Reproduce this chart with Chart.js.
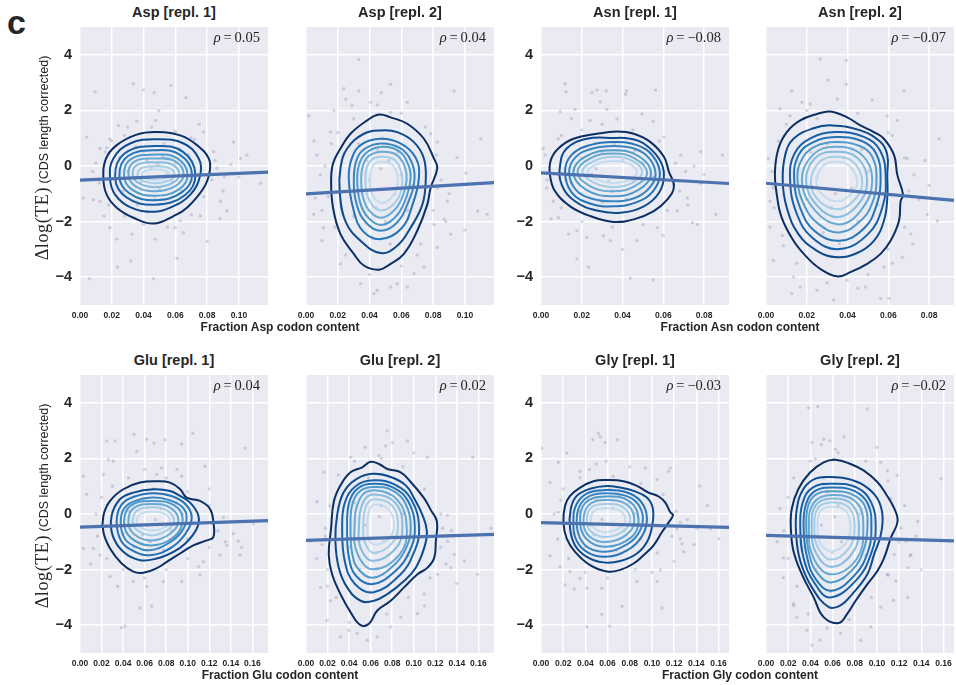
<!DOCTYPE html>
<html>
<head>
<meta charset="utf-8">
<script src="https://cdn.jsdelivr.net/npm/chart.js@4/dist/chart.umd.min.js"></script>
<style>
  html, body { margin: 0; padding: 0; background: #ffffff; }
  #fig { position: relative; width: 956px; height: 685px; overflow: hidden;
         font-family: "Liberation Sans", Arial, sans-serif; color: #262626; }
  #fig canvas { position: absolute; }
  .ptitle { position: absolute; width: 188px; text-align: center; font-weight: bold;
            font-size: 14.5px; line-height: 16px; white-space: nowrap; }
  .rho { position: absolute; text-align: right; font-family: "Liberation Serif", "DejaVu Serif", serif;
         font-size: 14.5px; line-height: 16px; white-space: nowrap; }
  .rho i { font-style: italic; }
  .xtitle { position: absolute; font-weight: bold; font-size: 12px; line-height: 14px;
            white-space: nowrap; transform: translate(-50%, -50%); }
  .ytitle { position: absolute; white-space: nowrap; font-size: 12.5px; line-height: 20px;
            transform: translate(-50%, -50%) rotate(-90deg); }
  .ytitle .math { font-family: "Liberation Serif", "DejaVu Serif", serif; font-size: 18px; letter-spacing: 0.6px; }
  .letter { position: absolute; left: 7px; top: 2px; font-weight: bold; font-size: 34px; line-height: 40px; }
</style>
</head>
<body>
<div id="fig"><div class="letter">c</div></div>
<script>
// ---- values -------------------------------------------------------------
const panelTitles = ['Asp [repl. 1]', 'Asp [repl. 2]', 'Asn [repl. 1]', 'Asn [repl. 2]',
                     'Glu [repl. 1]', 'Glu [repl. 2]', 'Gly [repl. 1]', 'Gly [repl. 2]'];
const rhoValues = [0.05, 0.04, -0.08, -0.07, 0.04, 0.02, -0.03, -0.02];
const xAxisTitles = ['Fraction Asp codon content', 'Fraction Asn codon content',
                     'Fraction Glu codon content', 'Fraction Gly codon content'];
const xMaxValues = [0.1183, 0.1183, 0.0922, 0.0922, 0.1745, 0.1745, 0.1695, 0.1695];
const aspTicks = [0, 0.02, 0.04, 0.06, 0.08, 0.10];
const asnTicks = [0, 0.02, 0.04, 0.06, 0.08];
const gluTicks = [0, 0.02, 0.04, 0.06, 0.08, 0.10, 0.12, 0.14, 0.16];
const glyTicks = [0, 0.02, 0.04, 0.06, 0.08, 0.10, 0.12, 0.14, 0.16];
const yTicks = [-4, -2, 0, 2, 4];
// regression fit value at the left (x = 0) and right (x = max) edge of each panel
const fitAtLeft  = [-0.51, -1.00, -0.25, -0.62, -0.47, -0.95, -0.31, -0.77];
const fitAtRight = [-0.22, -0.60, -0.63, -1.24, -0.24, -0.73, -0.48, -0.97];

// density contour rings, outermost first, as flat x,y lists
const aspRep1Rings = [
  [0.0484,1.22, 0.0631,1.10, 0.0736,0.75, 0.0810,0.27, 0.0816,-0.20, 0.0778,-0.79, 0.0673,-1.50, 0.0589,-1.80, 0.0463,-2.07, 0.0336,-1.86, 0.0231,-1.50, 0.0168,-1.03, 0.0147,-0.44, 0.0164,0.27, 0.0231,0.75, 0.0357,1.13],
  [0.0484,0.96, 0.0652,0.81, 0.0747,0.27, 0.0757,-0.32, 0.0694,-1.03, 0.0568,-1.50, 0.0463,-1.65, 0.0315,-1.48, 0.0221,-1.03, 0.0189,-0.44, 0.0210,0.27, 0.0315,0.81],
  [0.048,0.72, 0.065,0.50, 0.0726,-0.30, 0.066,-1.05, 0.047,-1.39, 0.029,-1.12, 0.0221,-0.40, 0.028,0.45],
  [0.048,0.57, 0.063,0.40, 0.0705,-0.30, 0.064,-0.95, 0.047,-1.23, 0.031,-0.98, 0.0248,-0.38, 0.030,0.35],
  [0.048,0.41, 0.061,0.28, 0.0677,-0.30, 0.062,-0.85, 0.047,-1.07, 0.033,-0.86, 0.0277,-0.35, 0.032,0.25],
  [0.048,0.27, 0.060,0.17, 0.0652,-0.30, 0.060,-0.72, 0.047,-0.91, 0.035,-0.73, 0.0305,-0.33, 0.034,0.15],
  [0.048,0.13, 0.058,0.05, 0.0625,-0.30, 0.058,-0.62, 0.047,-0.76, 0.037,-0.62, 0.0332,-0.32, 0.036,0.04],
  [0.048,-0.01, 0.056,-0.07, 0.0595,-0.30, 0.056,-0.52, 0.047,-0.62, 0.039,-0.52, 0.0362,-0.31, 0.039,-0.07],
  [0.048,-0.13, 0.054,-0.18, 0.056,-0.31, 0.054,-0.44, 0.047,-0.50, 0.041,-0.44, 0.039,-0.31, 0.041,-0.18]
];
const aspRep2Rings = [
  [0.0458,1.85, 0.0385,1.64, 0.0280,1.16, 0.0217,0.63, 0.0170,0.09, 0.0158,-0.56, 0.0170,-1.50, 0.0217,-2.45, 0.0301,-3.16, 0.0364,-3.58, 0.0458,-3.73, 0.0532,-3.52, 0.0616,-3.16, 0.0700,-2.33, 0.0763,-1.39, 0.0784,-0.79, 0.0826,-0.08, 0.0805,0.27, 0.0742,0.98, 0.0637,1.52, 0.0532,1.75],
  [0.0469,1.28, 0.0364,1.16, 0.0259,0.63, 0.0217,-0.08, 0.0212,-0.91, 0.0248,-1.98, 0.0343,-2.69, 0.0469,-3.13, 0.0574,-2.87, 0.0658,-2.22, 0.0732,-1.39, 0.0753,-0.56, 0.0742,0.27, 0.0679,0.86, 0.0574,1.22],
  [0.047,0.98, 0.060,0.80, 0.069,0.30, 0.0711,-0.40, 0.067,-1.40, 0.060,-2.25, 0.047,-2.63, 0.036,-2.35, 0.030,-1.60, 0.0269,-0.44, 0.029,0.30, 0.035,0.78],
  [0.047,0.81, 0.059,0.65, 0.066,0.20, 0.0683,-0.45, 0.064,-1.35, 0.057,-2.05, 0.047,-2.33, 0.038,-2.05, 0.032,-1.40, 0.0301,-0.45, 0.032,0.25, 0.037,0.62],
  [0.048,0.69, 0.058,0.55, 0.064,0.10, 0.0658,-0.45, 0.062,-1.30, 0.056,-1.85, 0.047,-2.12, 0.039,-1.85, 0.034,-1.30, 0.0322,-0.45, 0.034,0.15, 0.039,0.52],
  [0.048,0.51, 0.057,0.40, 0.062,0.00, 0.0633,-0.50, 0.060,-1.20, 0.055,-1.62, 0.047,-1.86, 0.040,-1.62, 0.036,-1.15, 0.0347,-0.50, 0.036,0.05, 0.040,0.38],
  [0.048,0.33, 0.057,0.15, 0.0606,-0.55, 0.057,-1.25, 0.047,-1.60, 0.040,-1.25, 0.0374,-0.55, 0.040,0.15],
  [0.048,0.15, 0.055,0.00, 0.0578,-0.55, 0.055,-1.05, 0.048,-1.33, 0.042,-1.05, 0.0402,-0.55, 0.042,0.00]
];
const asnRep1Rings = [
  [0.0373,1.24, 0.0274,1.16, 0.0159,0.98, 0.0085,0.63, 0.0048,0.21, 0.0044,-0.32, 0.0069,-0.91, 0.0143,-1.45, 0.0241,-1.80, 0.0356,-2.01, 0.0455,-1.92, 0.0553,-1.62, 0.0619,-1.21, 0.0652,-0.73, 0.0627,-0.20, 0.0603,0.33, 0.0537,0.86, 0.0455,1.16],
  [0.0356,1.01, 0.0225,0.98, 0.0126,0.63, 0.0094,0.04, 0.0102,-0.68, 0.0167,-1.27, 0.0274,-1.60, 0.0389,-1.68, 0.0504,-1.45, 0.0578,-0.97, 0.0603,-0.32, 0.0578,0.27, 0.0504,0.81, 0.0438,0.98],
  [0.0356,0.86, 0.047,0.75, 0.055,0.35, 0.0583,-0.30, 0.055,-0.90, 0.047,-1.30, 0.0356,-1.45, 0.024,-1.35, 0.015,-0.95, 0.0118,-0.20, 0.015,0.40, 0.024,0.75],
  [0.0356,0.72, 0.046,0.62, 0.053,0.28, 0.0562,-0.30, 0.053,-0.80, 0.046,-1.15, 0.0356,-1.27, 0.025,-1.18, 0.017,-0.85, 0.0138,-0.22, 0.017,0.32, 0.025,0.62],
  [0.0356,0.57, 0.048,0.35, 0.054,-0.28, 0.048,-0.85, 0.0356,-1.09, 0.022,-0.85, 0.0159,-0.22, 0.022,0.35],
  [0.0356,0.45, 0.046,0.27, 0.0521,-0.25, 0.046,-0.72, 0.0356,-0.91, 0.024,-0.72, 0.0179,-0.22, 0.024,0.27],
  [0.0356,0.33, 0.045,0.18, 0.0496,-0.22, 0.045,-0.60, 0.0356,-0.76, 0.026,-0.60, 0.0202,-0.20, 0.026,0.18],
  [0.0356,0.18, 0.043,0.08, 0.0471,-0.22, 0.043,-0.50, 0.0356,-0.62, 0.028,-0.50, 0.0228,-0.20, 0.028,0.08]
];
const asnRep2Rings = [
  [0.0315,1.96, 0.0250,1.87, 0.0168,1.64, 0.0102,1.22, 0.0061,0.63, 0.0044,-0.20, 0.0053,-1.03, 0.0077,-1.86, 0.0135,-2.69, 0.0200,-3.28, 0.0266,-3.70, 0.0348,-3.97, 0.0414,-3.82, 0.0496,-3.52, 0.0562,-3.16, 0.0611,-2.69, 0.0652,-1.98, 0.0660,-1.27, 0.0672,-1.03, 0.0644,-0.32, 0.0628,0.39, 0.0578,0.98, 0.0529,1.22, 0.0463,1.46, 0.0398,1.75],
  [0.0324,1.46, 0.0233,1.36, 0.0135,0.98, 0.0094,0.39, 0.0082,-0.56, 0.0102,-1.50, 0.0159,-2.45, 0.0250,-3.05, 0.0348,-3.28, 0.0447,-3.13, 0.0529,-2.69, 0.0578,-1.98, 0.0595,-1.15, 0.0595,-0.32, 0.0595,0.39, 0.0562,0.86, 0.0463,1.28],
  [0.034,1.22, 0.048,1.05, 0.056,0.55, 0.0587,-0.40, 0.057,-1.50, 0.050,-2.45, 0.036,-2.99, 0.023,-2.60, 0.015,-1.70, 0.0118,-0.45, 0.014,0.45, 0.022,1.00],
  [0.034,1.04, 0.047,0.90, 0.054,0.45, 0.0562,-0.45, 0.054,-1.45, 0.048,-2.25, 0.036,-2.69, 0.024,-2.35, 0.017,-1.55, 0.0138,-0.45, 0.016,0.40, 0.023,0.85],
  [0.034,0.86, 0.046,0.72, 0.052,0.35, 0.0542,-0.45, 0.052,-1.35, 0.046,-2.00, 0.036,-2.39, 0.026,-2.10, 0.019,-1.45, 0.0154,-0.45, 0.018,0.30, 0.024,0.70],
  [0.034,0.69, 0.047,0.40, 0.0521,-0.50, 0.047,-1.55, 0.036,-2.10, 0.024,-1.60, 0.0176,-0.50, 0.023,0.40],
  [0.034,0.51, 0.045,0.28, 0.0496,-0.55, 0.045,-1.40, 0.035,-1.84, 0.025,-1.42, 0.0197,-0.55, 0.024,0.28],
  [0.034,0.33, 0.043,0.13, 0.0472,-0.60, 0.043,-1.25, 0.035,-1.56, 0.026,-1.25, 0.022,-0.60, 0.026,0.13],
  [0.034,0.15, 0.041,0.00, 0.0447,-0.60, 0.041,-1.05, 0.035,-1.27, 0.028,-1.05, 0.0246,-0.60, 0.028,0.00]
];
const gluRep1Rings = [
  [0.0712,1.18, 0.0557,1.13, 0.0402,0.89, 0.0279,0.47, 0.0217,-0.06, 0.0217,-0.65, 0.0279,-1.24, 0.0387,-1.78, 0.0495,-2.07, 0.0588,-2.11, 0.0712,-1.95, 0.0805,-1.72, 0.0929,-1.42, 0.1052,-1.13, 0.1176,-0.95, 0.1238,-0.83, 0.1238,-0.30, 0.1207,0.18, 0.1114,0.47, 0.0990,0.59, 0.0929,0.89, 0.0836,1.13],
  [0.0681,0.89, 0.0495,0.77, 0.0371,0.53, 0.0294,-0.06, 0.0303,-0.77, 0.0402,-1.36, 0.0557,-1.66, 0.0712,-1.60, 0.0867,-1.36, 0.0975,-1.07, 0.1083,-0.53, 0.1099,-0.06, 0.1021,0.41, 0.0929,0.65, 0.0836,0.83],
  [0.068,0.75, 0.085,0.65, 0.098,0.35, 0.1037,-0.12, 0.098,-0.70, 0.085,-1.20, 0.065,-1.48, 0.048,-1.30, 0.038,-0.95, 0.034,-0.30, 0.038,0.30, 0.050,0.62],
  [0.068,0.59, 0.083,0.50, 0.095,0.25, 0.099,-0.15, 0.094,-0.65, 0.082,-1.05, 0.065,-1.30, 0.050,-1.15, 0.041,-0.85, 0.0378,-0.30, 0.041,0.20, 0.052,0.48],
  [0.068,0.47, 0.088,0.30, 0.0953,-0.20, 0.088,-0.80, 0.066,-1.13, 0.047,-0.85, 0.0409,-0.30, 0.047,0.30],
  [0.068,0.36, 0.084,0.22, 0.0913,-0.22, 0.084,-0.70, 0.066,-0.95, 0.050,-0.72, 0.0449,-0.28, 0.050,0.22],
  [0.068,0.24, 0.081,0.12, 0.0873,-0.25, 0.081,-0.58, 0.067,-0.77, 0.053,-0.58, 0.0489,-0.27, 0.053,0.12],
  [0.068,0.08, 0.079,0.00, 0.0836,-0.27, 0.079,-0.48, 0.067,-0.59, 0.056,-0.48, 0.0526,-0.27, 0.056,0.00]
];
const gluRep2Rings = [
  [0.0600,1.88, 0.0522,1.68, 0.0413,1.50, 0.0320,1.03, 0.0258,0.44, 0.0233,-0.51, 0.0211,-1.46, 0.0242,-2.17, 0.0320,-2.88, 0.0413,-3.53, 0.0506,-4.00, 0.0584,-3.95, 0.0662,-3.47, 0.0786,-3.12, 0.0910,-2.64, 0.1035,-2.17, 0.1128,-1.93, 0.1190,-1.58, 0.1205,-0.98, 0.1215,-0.27, 0.1159,0.14, 0.1097,0.56, 0.0972,1.15, 0.0879,1.50, 0.0755,1.62, 0.0677,1.80],
  [0.0615,1.45, 0.0475,1.27, 0.0351,0.79, 0.0289,-0.04, 0.0273,-0.98, 0.0304,-1.93, 0.0382,-2.64, 0.0506,-3.12, 0.0631,-3.12, 0.0755,-2.88, 0.0910,-2.41, 0.1019,-1.93, 0.1097,-1.22, 0.1122,-0.63, 0.1081,-0.04, 0.1004,0.56, 0.0926,1.03, 0.0786,1.33],
  [0.063,1.21, 0.083,1.05, 0.098,0.50, 0.105,-0.50, 0.100,-1.40, 0.087,-2.20, 0.062,-2.82, 0.045,-2.50, 0.036,-1.70, 0.0336,-0.50, 0.036,0.40, 0.046,1.00],
  [0.063,1.09, 0.081,0.95, 0.095,0.45, 0.101,-0.50, 0.096,-1.35, 0.083,-2.05, 0.062,-2.52, 0.047,-2.25, 0.040,-1.60, 0.0382,-0.50, 0.040,0.40, 0.048,0.92],
  [0.063,0.97, 0.080,0.85, 0.092,0.40, 0.0972,-0.50, 0.092,-1.30, 0.080,-1.90, 0.062,-2.29, 0.049,-2.00, 0.043,-1.45, 0.0413,-0.50, 0.043,0.35, 0.050,0.82],
  [0.063,0.85, 0.085,0.50, 0.0935,-0.50, 0.087,-1.45, 0.062,-1.99, 0.048,-1.45, 0.045,-0.50, 0.050,0.55],
  [0.063,0.70, 0.083,0.40, 0.0895,-0.50, 0.083,-1.25, 0.062,-1.69, 0.051,-1.25, 0.0491,-0.50, 0.053,0.42],
  [0.064,0.53, 0.080,0.30, 0.0854,-0.45, 0.080,-1.05, 0.063,-1.40, 0.055,-1.05, 0.0531,-0.45, 0.056,0.30],
  [0.064,0.34, 0.077,0.15, 0.0817,-0.40, 0.077,-0.88, 0.064,-1.10, 0.058,-0.88, 0.0569,-0.40, 0.059,0.15]
];
const glyRep1Rings = [
  [0.0594,1.22, 0.0473,1.18, 0.0353,0.95, 0.0262,0.65, 0.0217,0.30, 0.0202,-0.30, 0.0232,-0.89, 0.0307,-1.36, 0.0443,-1.84, 0.0594,-2.07, 0.0714,-2.01, 0.0835,-1.78, 0.0925,-1.48, 0.1015,-1.13, 0.1091,-0.65, 0.1151,-0.30, 0.1190,-0.04, 0.1166,0.06, 0.1121,0.41, 0.1061,0.63, 0.0970,0.77, 0.0865,1.01, 0.0744,1.18],
  [0.0594,1.01, 0.0443,0.91, 0.0322,0.65, 0.0268,0.18, 0.0262,-0.53, 0.0307,-1.13, 0.0413,-1.54, 0.0563,-1.74, 0.0714,-1.69, 0.0865,-1.42, 0.0955,-1.01, 0.1000,-0.47, 0.1009,0.18, 0.0955,0.59, 0.0835,0.83, 0.0714,0.95],
  [0.058,0.86, 0.077,0.78, 0.090,0.45, 0.0955,-0.15, 0.091,-0.80, 0.078,-1.30, 0.058,-1.54, 0.042,-1.38, 0.032,-0.95, 0.0292,-0.30, 0.032,0.35, 0.042,0.75],
  [0.058,0.75, 0.075,0.67, 0.087,0.38, 0.0919,-0.18, 0.087,-0.75, 0.075,-1.15, 0.058,-1.36, 0.043,-1.22, 0.035,-0.85, 0.0322,-0.30, 0.035,0.30, 0.044,0.65],
  [0.058,0.63, 0.080,0.45, 0.088,-0.22, 0.081,-0.85, 0.058,-1.18, 0.041,-0.90, 0.0353,-0.30, 0.040,0.40],
  [0.058,0.50, 0.077,0.35, 0.0841,-0.22, 0.077,-0.75, 0.058,-1.01, 0.043,-0.78, 0.0383,-0.28, 0.043,0.32],
  [0.058,0.36, 0.074,0.25, 0.0805,-0.22, 0.074,-0.62, 0.058,-0.83, 0.045,-0.63, 0.0413,-0.25, 0.045,0.22],
  [0.058,0.21, 0.071,0.12, 0.076,-0.22, 0.071,-0.50, 0.058,-0.65, 0.048,-0.50, 0.0449,-0.22, 0.048,0.12]
];
const glyRep2Rings = [
  [0.0626,1.95, 0.0520,1.86, 0.0399,1.50, 0.0293,0.91, 0.0233,0.20, 0.0224,-0.51, 0.0248,-1.34, 0.0324,-2.17, 0.0430,-3.00, 0.0520,-3.71, 0.0656,-3.92, 0.0732,-3.59, 0.0808,-3.12, 0.0914,-2.52, 0.1004,-2.05, 0.1065,-1.58, 0.1125,-0.86, 0.1186,-0.27, 0.1156,0.20, 0.1080,0.73, 0.1004,1.15, 0.0883,1.56, 0.0762,1.80],
  [0.0581,1.33, 0.0445,1.27, 0.0339,0.91, 0.0278,0.20, 0.0272,-0.75, 0.0309,-1.69, 0.0414,-2.64, 0.0566,-3.35, 0.0672,-3.29, 0.0778,-2.88, 0.0914,-2.17, 0.0974,-1.46, 0.1035,-0.75, 0.1050,-0.04, 0.1004,0.56, 0.0883,1.03, 0.0732,1.27],
  [0.060,1.09, 0.082,0.95, 0.095,0.40, 0.0989,-0.50, 0.095,-1.40, 0.082,-2.35, 0.058,-3.00, 0.044,-2.50, 0.034,-1.60, 0.0309,-0.50, 0.033,0.40, 0.042,0.95],
  [0.060,0.95, 0.080,0.82, 0.092,0.35, 0.095,-0.50, 0.092,-1.35, 0.080,-2.20, 0.059,-2.76, 0.045,-2.35, 0.037,-1.55, 0.0339,-0.50, 0.036,0.35, 0.044,0.82],
  [0.060,0.82, 0.078,0.70, 0.089,0.30, 0.0914,-0.50, 0.088,-1.30, 0.078,-2.00, 0.059,-2.46, 0.046,-2.10, 0.039,-1.45, 0.0363,-0.50, 0.038,0.30, 0.045,0.70],
  [0.060,0.68, 0.082,0.40, 0.0877,-0.50, 0.082,-1.60, 0.059,-2.17, 0.043,-1.60, 0.0387,-0.50, 0.043,0.40],
  [0.060,0.56, 0.078,0.32, 0.0838,-0.50, 0.078,-1.40, 0.059,-1.91, 0.045,-1.40, 0.0411,-0.50, 0.045,0.32],
  [0.060,0.41, 0.075,0.22, 0.0799,-0.50, 0.075,-1.22, 0.059,-1.64, 0.047,-1.22, 0.0436,-0.50, 0.047,0.22],
  [0.060,0.26, 0.072,0.10, 0.0762,-0.50, 0.072,-1.05, 0.059,-1.34, 0.049,-1.05, 0.0466,-0.50, 0.049,0.10]
];

// individual genes (x = codon fraction, y = corrected delta log TE), flat x,y lists
const aspRep1Points = [0.0336,2.96, 0.0400,2.74, 0.0467,2.64, 0.0572,2.90, 0.0667,2.46, 0.0095,2.67, 0.0496,1.99, 0.0358,1.61, 0.0475,1.64, 0.0168,0.66, 0.0242,1.46, 0.0698,1.01, 0.0189,0.96, 0.0042,1.04, 0.0126,0.63, 0.1050,0.39, 0.1010,0.27, 0.1136,-0.62, 0.0862,-0.08, 0.0908,-0.38, 0.0841,0.51, 0.0126,-1.27, 0.0084,-1.21, 0.0189,-2.22, 0.0231,-2.63, 0.0326,-2.45, 0.0473,-2.63, 0.0599,-2.22, 0.0610,-3.32, 0.0235,-3.64, 0.0320,-3.41, 0.0463,-4.05, 0.0059,-4.05, 0.0799,-2.71, 0.0925,-1.62, 0.0883,-1.27, 0.0020,-1.15, 0.0757,-1.80, 0.0631,-1.98, 0.0778,1.22, 0.0967,0.86,
  0.040,0.50, 0.052,0.35, 0.045,-0.10, 0.055,-0.25, 0.038,-0.60, 0.050,-0.80, 0.060,0.10, 0.030,-0.20, 0.042,0.20, 0.058,-0.55, 0.035,0.70, 0.047,-1.20, 0.064,-0.90, 0.027,-0.90, 0.053,0.80, 0.044,-0.40, 0.049,0.05, 0.036,-1.40, 0.068,0.40, 0.025,0.30,
  0.020,0.90, 0.028,1.10, 0.060,1.25, 0.072,0.95, 0.085,0.20, 0.083,-0.50, 0.078,-1.10, 0.070,-1.75, 0.055,-2.20, 0.040,-2.10, 0.028,-1.80, 0.018,-1.40, 0.012,-0.60, 0.010,0.10, 0.016,0.50, 0.090,-0.90, 0.095,0.05, 0.075,1.50, 0.030,1.40, 0.015,-1.80, 0.065,-2.40, 0.045,1.40, 0.088,-1.90, 0.008,-0.20, 0.100,-0.40];
const aspRep2Points = [0.0332,3.83, 0.0238,2.78, 0.0332,2.70, 0.0473,2.64, 0.0532,2.94, 0.0932,2.70, 0.0290,2.17, 0.0175,1.99, 0.0017,1.81, 0.0784,1.16, 0.0826,0.86, 0.1100,0.98, 0.0069,0.39, 0.0090,-0.32, 0.0059,-1.15, 0.0048,-1.74, 0.0101,-2.69, 0.0217,-3.52, 0.0343,-4.23, 0.0532,-4.35, 0.0637,-4.35, 0.0427,-4.59, 0.0742,-3.64, 0.0826,-2.93, 0.0911,-2.45, 0.1005,-0.26, 0.1080,-1.62, 0.1140,-1.74, 0.0890,-1.27, 0.0869,-1.92, 0.0637,2.29, 0.0406,2.29, 0.0532,1.93, 0.0154,1.22, 0.0826,-0.79, 0.0805,-2.10, 0.0574,-4.23, 0.0448,-4.47, 0.0111,-2.22, 0.0679,-3.87,
  0.045,0.60, 0.052,0.20, 0.040,-0.50, 0.056,-1.00, 0.044,-1.50, 0.050,-2.00, 0.035,-0.90, 0.060,-0.30, 0.048,1.00, 0.038,0.20, 0.058,0.50, 0.042,-2.60, 0.064,-1.60, 0.030,-1.80, 0.053,-2.80, 0.047,-0.10, 0.033,0.80, 0.067,-0.70,
  0.020,1.20, 0.030,1.70, 0.060,1.90, 0.075,1.40, 0.082,0.40, 0.085,-0.50, 0.080,-1.60, 0.072,-2.80, 0.060,-3.60, 0.040,-3.90, 0.025,-3.20, 0.018,-2.20, 0.014,-1.10, 0.012,0.00, 0.016,0.80, 0.090,-1.00, 0.095,0.30, 0.045,2.20, 0.025,2.40, 0.010,-1.60, 0.070,-3.20, 0.088,-2.00, 0.005,0.90, 0.100,-2.30];
const asnRep1Points = [0.0118,2.96, 0.0123,2.67, 0.0250,2.64, 0.0274,2.73, 0.0320,2.70, 0.0414,2.58, 0.0419,2.70, 0.0562,2.73, 0.0291,2.31, 0.0323,2.03, 0.0167,2.03, 0.0373,1.69, 0.0241,1.64, 0.0094,1.96, 0.0496,1.87, 0.0085,0.98, 0.0011,0.63, 0.0603,1.04, 0.0685,0.39, 0.0783,0.51, 0.0890,0.39, 0.0709,-0.20, 0.0783,-0.62, 0.0718,-1.15, 0.0668,-1.62, 0.0742,-2.04, 0.0767,-2.10, 0.0857,-1.74, 0.0085,-1.86, 0.0135,-2.45, 0.0176,-2.33, 0.0225,-2.57, 0.0307,-2.51, 0.0340,-2.69, 0.0471,-2.69, 0.0233,-3.64, 0.0176,-3.34, 0.0438,-4.03, 0.0550,-4.09, 0.0061,-1.27, 0.0570,-2.22, 0.0028,-0.79,
  0.030,0.50, 0.040,0.20, 0.025,-0.30, 0.045,-0.50, 0.035,-0.90, 0.020,0.30, 0.050,0.10, 0.030,-1.30, 0.042,-1.20, 0.015,-0.60, 0.055,-0.40, 0.036,0.80, 0.027,-0.10, 0.046,0.55, 0.033,-0.55, 0.020,-1.00,
  0.010,1.10, 0.020,1.30, 0.045,1.30, 0.058,0.90, 0.066,0.10, 0.068,-0.90, 0.062,-1.60, 0.050,-2.10, 0.035,-2.20, 0.020,-2.00, 0.010,-1.50, 0.003,-0.50, 0.002,0.40, 0.072,-1.40, 0.075,0.00, 0.055,1.60, 0.030,1.50, 0.005,-1.90, 0.060,-2.50, 0.040,-3.00, 0.080,-0.30, 0.015,1.70];
const asnRep2Points = [0.0266,3.85, 0.0394,3.80, 0.0126,2.70, 0.0302,3.09, 0.0394,2.94, 0.0677,2.70, 0.0521,2.37, 0.0176,2.29, 0.0217,2.23, 0.0069,2.05, 0.0118,1.81, 0.0595,1.81, 0.0644,1.64, 0.0619,1.10, 0.0693,0.27, 0.0726,-0.32, 0.0849,0.98, 0.0792,-1.74, 0.0841,-1.98, 0.0710,-2.45, 0.0669,-3.28, 0.0578,-3.64, 0.0562,-4.76, 0.0603,-4.76, 0.0126,-4.59, 0.0168,-4.35, 0.0135,-3.99, 0.0250,-4.47, 0.0398,-4.11, 0.0020,-1.27, 0.0036,-0.79, 0.0011,0.27, 0.0085,-2.87, 0.0036,-3.40, 0.0488,-4.35, 0.0332,-4.82,
  0.030,0.80, 0.038,0.30, 0.025,-0.40, 0.042,-0.80, 0.032,-1.50, 0.045,-2.00, 0.020,-1.20, 0.050,-0.20, 0.028,-2.40, 0.036,-2.80, 0.015,0.20, 0.055,-1.40, 0.040,1.20, 0.022,0.50, 0.034,-1.00, 0.047,0.60,
  0.010,1.50, 0.020,2.00, 0.045,1.90, 0.060,1.20, 0.068,0.30, 0.070,-0.90, 0.068,-2.20, 0.060,-3.00, 0.050,-3.90, 0.030,-4.20, 0.015,-3.50, 0.008,-2.50, 0.004,-1.50, 0.003,-0.20, 0.006,0.90, 0.075,-1.20, 0.078,0.20, 0.035,2.40, 0.025,1.70, 0.002,-2.20, 0.062,-3.50, 0.072,-2.80, 0.080,-0.70, 0.045,-4.40];
const gluRep1Points = [0.0248,2.63, 0.0325,2.63, 0.0619,2.69, 0.0687,2.55, 0.0789,2.67, 0.0944,2.52, 0.1046,2.90, 0.0501,2.87, 0.0526,2.25, 0.0263,1.95, 0.0310,1.90, 0.0217,1.42, 0.0758,1.66, 0.0712,1.42, 0.0944,1.36, 0.1161,1.72, 0.1532,2.37, 0.0062,0.71, 0.0031,1.36, 0.1331,-0.12, 0.1424,-0.71, 0.1470,-0.98, 0.1362,-1.13, 0.1486,-1.48, 0.1300,-1.48, 0.0186,-1.48, 0.0124,-1.24, 0.0279,-2.25, 0.0495,-2.43, 0.0619,-2.61, 0.0774,-2.43, 0.0665,-3.32, 0.0557,-3.38, 0.0418,-4.03, 0.0387,-4.09, 0.0944,-2.43, 0.1114,-2.19, 0.1145,-1.72, 0.0031,-1.24, 0.1609,-0.36,
  0.060,0.50, 0.075,0.20, 0.055,-0.40, 0.085,-0.60, 0.065,-1.00, 0.045,0.10, 0.095,0.00, 0.070,-0.20, 0.050,-1.20, 0.080,0.70, 0.100,-0.90, 0.040,-0.70, 0.068,0.90, 0.090,0.40, 0.058,-0.75, 0.078,-1.30,
  0.030,1.00, 0.045,1.30, 0.080,1.30, 0.100,0.80, 0.120,0.30, 0.128,-0.60, 0.120,-1.20, 0.100,-1.60, 0.080,-2.00, 0.060,-2.30, 0.040,-2.00, 0.025,-1.60, 0.016,-0.80, 0.015,0.00, 0.020,0.60, 0.135,-1.00, 0.140,-0.30, 0.090,1.60, 0.060,1.60, 0.010,-1.80, 0.110,-1.90, 0.150,-1.20, 0.035,-2.60, 0.120,0.90];
const gluRep2Points = [0.0755,2.99, 0.0941,2.63, 0.0740,2.45, 0.0413,2.04, 0.0677,2.10, 0.1128,2.04, 0.1547,2.04, 0.0802,2.57, 0.0165,1.50, 0.0103,0.44, 0.0180,-0.51, 0.0149,-1.10, 0.0040,-0.98, 0.1268,-0.51, 0.1314,-0.98, 0.1376,-1.46, 0.1345,-1.93, 0.1221,-2.17, 0.1470,-1.69, 0.1594,-2.17, 0.1097,-2.88, 0.1035,-3.59, 0.0879,-3.71, 0.0786,-4.06, 0.0662,-4.42, 0.0475,-4.30, 0.0320,-4.42, 0.0196,-3.83, 0.0134,-2.64, 0.0227,-3.12, 0.1314,-0.04, 0.1718,-0.51, 0.0569,-4.54, 0.0398,-4.18,
  0.060,0.80, 0.070,0.30, 0.055,-0.40, 0.080,-0.80, 0.065,-1.40, 0.050,-2.00, 0.090,0.00, 0.045,0.40, 0.075,-2.30, 0.060,-2.80, 0.085,1.00, 0.040,-1.20, 0.095,-1.50, 0.068,-0.10, 0.058,1.30, 0.072,-1.00,
  0.030,1.40, 0.045,1.90, 0.070,2.00, 0.090,1.70, 0.110,0.90, 0.125,0.00, 0.125,-1.20, 0.115,-2.30, 0.095,-3.00, 0.075,-3.60, 0.055,-4.00, 0.040,-3.90, 0.028,-3.00, 0.020,-2.00, 0.018,-0.80, 0.022,0.30, 0.135,-0.60, 0.140,-2.50, 0.100,2.20, 0.055,2.40, 0.010,-1.60, 0.110,-3.30, 0.130,-1.80, 0.020,-2.60];
const glyRep1Points = [0.0518,2.90, 0.0533,2.78, 0.0467,2.67, 0.0578,2.57, 0.0690,2.67, 0.0588,1.90, 0.0157,1.86, 0.0232,2.19, 0.0437,1.60, 0.0353,1.54, 0.0940,1.66, 0.1166,1.66, 0.1151,1.54, 0.1431,1.01, 0.1046,1.24, 0.0006,2.37, 0.0081,1.13, 0.0157,0.06, 0.1256,-0.30, 0.1226,-0.53, 0.1256,-0.89, 0.1271,-1.07, 0.1287,-1.36, 0.1407,-0.53, 0.1528,-0.53, 0.1603,-0.89, 0.0172,-1.90, 0.0262,-2.07, 0.0217,-2.55, 0.0353,-2.31, 0.0413,-2.67, 0.0548,-2.67, 0.0729,-3.32, 0.0865,-2.43, 0.1046,-2.43, 0.1091,-3.38, 0.0548,-3.61, 0.0618,-4.03, 0.0413,-4.06, 0.1076,-2.01,
  0.050,0.50, 0.065,0.20, 0.045,-0.40, 0.075,-0.60, 0.060,-1.00, 0.035,0.10, 0.085,0.00, 0.055,-0.20, 0.040,-1.20, 0.070,0.70, 0.090,-0.90, 0.030,-0.70, 0.062,0.90, 0.080,0.40, 0.048,-0.75, 0.068,-1.30,
  0.020,0.90, 0.035,1.30, 0.065,1.35, 0.090,1.10, 0.110,0.70, 0.122,0.10, 0.118,-0.80, 0.105,-1.40, 0.085,-2.00, 0.060,-2.30, 0.040,-2.10, 0.025,-1.60, 0.015,-0.90, 0.012,0.00, 0.018,0.50, 0.132,-0.20, 0.138,-1.10, 0.080,1.70, 0.050,1.80, 0.008,-1.50, 0.100,-2.10, 0.120,-1.70, 0.030,-2.70, 0.150,0.30];
const glyRep2Points = [0.0466,3.87, 0.0384,3.82, 0.0914,3.78, 0.0520,2.69, 0.0575,2.63, 0.0702,2.78, 0.0626,2.33, 0.0414,2.57, 0.0445,1.98, 0.0611,1.98, 0.1035,1.86, 0.1186,1.39, 0.1095,1.56, 0.0127,0.20, 0.0157,-1.58, 0.0157,-2.29, 0.0248,-3.23, 0.0278,-3.71, 0.0369,-4.18, 0.0490,-4.54, 0.0414,-4.72, 0.0672,-4.30, 0.0853,-4.54, 0.0944,-4.06, 0.1035,-3.35, 0.1277,-3.00, 0.1171,-2.41, 0.1307,-1.46, 0.1261,-0.98, 0.1216,-0.51, 0.1367,-0.27, 0.1277,-1.93, 0.1156,-1.46, 0.1579,1.27, 0.1125,0.56, 0.1095,-2.17,
  0.055,0.80, 0.065,0.30, 0.050,-0.40, 0.075,-0.80, 0.060,-1.40, 0.045,-2.00, 0.085,0.00, 0.040,0.40, 0.070,-2.30, 0.058,-2.80, 0.080,1.00, 0.035,-1.20, 0.090,-1.50, 0.062,-0.10, 0.052,1.30, 0.068,-1.00,
  0.025,1.30, 0.040,1.90, 0.065,2.20, 0.090,1.90, 0.110,1.20, 0.125,0.30, 0.120,-1.00, 0.110,-2.20, 0.095,-3.00, 0.075,-3.80, 0.055,-4.10, 0.038,-3.60, 0.028,-2.60, 0.020,-1.60, 0.016,-0.60, 0.020,0.60, 0.135,-0.80, 0.140,-2.00, 0.100,2.40, 0.050,2.50, 0.010,-1.00, 0.115,-3.10, 0.130,-1.50, 0.025,-3.30];

// ---- styling / layout -----------------------------------------------------
const ringPalette = ['#0b2e63', '#0d4a8c', '#1760a8', '#2474b7', '#3987c2',
                     '#4f9bcb', '#68aad4', '#86bcdd', '#a4cde6', '#c3ddef'];
const fitColor = '#4C72B0';
const dotColor = 'rgba(85, 85, 125, 0.22)';
const plotLefts = [80, 306, 541, 766];
const rowTops = [23, 371];
const PLOT_W = 188, PLOT_H = 282, Y_AXIS_W = 36, X_AXIS_H = 24, PAD_R = 4;
const xTitleCenters = [280, 740];

const panelRings = [aspRep1Rings, aspRep2Rings, asnRep1Rings, asnRep2Rings,
                    gluRep1Rings, gluRep2Rings, glyRep1Rings, glyRep2Rings];
const panelPoints = [aspRep1Points, aspRep2Points, asnRep1Points, asnRep2Points,
                     gluRep1Points, gluRep2Points, glyRep1Points, glyRep2Points];
const panelTicks = [aspTicks, aspTicks, asnTicks, asnTicks, gluTicks, gluTicks, glyTicks, glyTicks];

Chart.defaults.font.family = '"Liberation Sans", Arial, sans-serif';

const panelBackground = {
  id: 'panelBackground',
  beforeDraw(chart) {
    const { ctx, chartArea: a } = chart;
    ctx.save();
    ctx.fillStyle = '#EAEAF2';
    ctx.fillRect(a.left, a.top, a.width, a.height);
    ctx.restore();
  }
};

function pairs(flat) {
  const out = [];
  for (let i = 0; i < flat.length; i += 2) out.push({ x: flat[i], y: flat[i + 1] });
  return out;
}

// closed smooth ring: wrap one vertex on each side so every visible
// segment gets symmetric control points, then hide the two wrap segments
function ringDataset(flat, color, order) {
  const pts = pairs(flat);
  const n = pts.length;
  const data = [pts[n - 1], ...pts, pts[0], pts[1]];
  return {
    data, order, showLine: true, tension: 0.42, borderColor: color, borderWidth: 2,
    pointRadius: 0, fill: false,
    segment: {
      borderColor: ctx => (ctx.p0DataIndex === 0 || ctx.p0DataIndex === n + 1) ? 'rgba(0,0,0,0)' : undefined
    }
  };
}

function minusSign(v) { return v < 0 ? '\u2212' + Math.abs(v) : String(v); }

const fig = document.getElementById('fig');

for (let p = 0; p < 8; p++) {
  const row = Math.floor(p / 4), col = p % 4;
  const plotLeft = plotLefts[col], top = rowTops[row];
  const showY = col % 2 === 0;
  const xMax = xMaxValues[p];

  const canvas = document.createElement('canvas');
  const w = Y_AXIS_W + PLOT_W + PAD_R, h = PLOT_H + X_AXIS_H;
  canvas.width = w; canvas.height = h;
  canvas.style.width = w + 'px'; canvas.style.height = h + 'px';
  canvas.style.left = (plotLeft - Y_AXIS_W) + 'px';
  canvas.style.top = top + 'px';
  fig.appendChild(canvas);

  const rings = panelRings[p];
  const datasets = [];
  datasets.push({
    data: [{ x: 0, y: fitAtLeft[p] }, { x: xMax, y: fitAtRight[p] }],
    showLine: true, borderColor: fitColor, borderWidth: 3.2, pointRadius: 0, order: 0
  });
  rings.forEach((r, i) => {
    const c = ringPalette[Math.round(i * (ringPalette.length - 1) / (rings.length - 1))];
    datasets.push(ringDataset(r, c, 1 + (rings.length - i)));
  });
  datasets.push({
    data: pairs(panelPoints[p]), pointRadius: 1.7, pointBackgroundColor: dotColor,
    pointBorderWidth: 0, order: 50
  });

  new Chart(canvas, {
    type: 'scatter',
    data: { datasets },
    plugins: [panelBackground],
    options: {
      responsive: false, animation: false, devicePixelRatio: 1, events: [],
      layout: { padding: { left: 0, top: 0, right: PAD_R, bottom: 0 } },
      plugins: { legend: { display: false }, tooltip: { enabled: false } },
      scales: {
        x: {
          type: 'linear', min: 0, max: xMax,
          afterBuildTicks: s => { s.ticks = panelTicks[p].map(v => ({ value: v })); },
          afterFit: s => { s.height = X_AXIS_H; s.paddingLeft = 0; s.paddingRight = 0; },
          grid: { color: '#ffffff', lineWidth: 1.5, drawTicks: false },
          border: { display: false },
          ticks: {
            autoSkip: false, maxRotation: 0, minRotation: 0, padding: 6, color: '#262626',
            font: { size: 8.5, weight: 'bold' }, callback: v => Number(v).toFixed(2)
          }
        },
        y: {
          type: 'linear', min: -5, max: 5,
          afterBuildTicks: s => { s.ticks = yTicks.map(v => ({ value: v })); },
          afterFit: s => { s.width = Y_AXIS_W; s.paddingTop = 0; s.paddingBottom = 0; },
          grid: { color: '#ffffff', lineWidth: 1.5, drawTicks: false },
          border: { display: false },
          ticks: {
            display: showY, padding: 8, color: '#262626',
            font: { size: 14.5, weight: 'bold' }, callback: v => minusSign(v)
          }
        }
      }
    }
  });

  const t = document.createElement('div');
  t.className = 'ptitle';
  t.textContent = panelTitles[p];
  t.style.left = plotLeft + 'px';
  t.style.top = (top - 19) + 'px';
  fig.appendChild(t);

  const r = document.createElement('div');
  r.className = 'rho';
  const rv = rhoValues[p];
  const rs = rv < 0 ? '\u2212' + Math.abs(rv).toFixed(2) : rv.toFixed(2);
  r.innerHTML = '<i>\u03c1</i>\u2009=\u2009' + rs;
  r.style.left = plotLeft + 'px';
  r.style.width = (PLOT_W - 8) + 'px';
  r.style.top = (top + 6) + 'px';
  fig.appendChild(r);
}

for (let row = 0; row < 2; row++) {
  for (let c = 0; c < 2; c++) {
    const xt = document.createElement('div');
    xt.className = 'xtitle';
    xt.textContent = xAxisTitles[row * 2 + c];
    xt.style.left = xTitleCenters[c] + 'px';
    xt.style.top = (rowTops[row] + 304) + 'px';
    fig.appendChild(xt);
  }
  const yt = document.createElement('div');
  yt.className = 'ytitle';
  yt.innerHTML = '<span class="math">\u0394log(TE)</span> (CDS length corrected)';
  yt.style.left = '43px';
  yt.style.top = (rowTops[row] + 135) + 'px';
  fig.appendChild(yt);
}
</script>
</body>
</html>
